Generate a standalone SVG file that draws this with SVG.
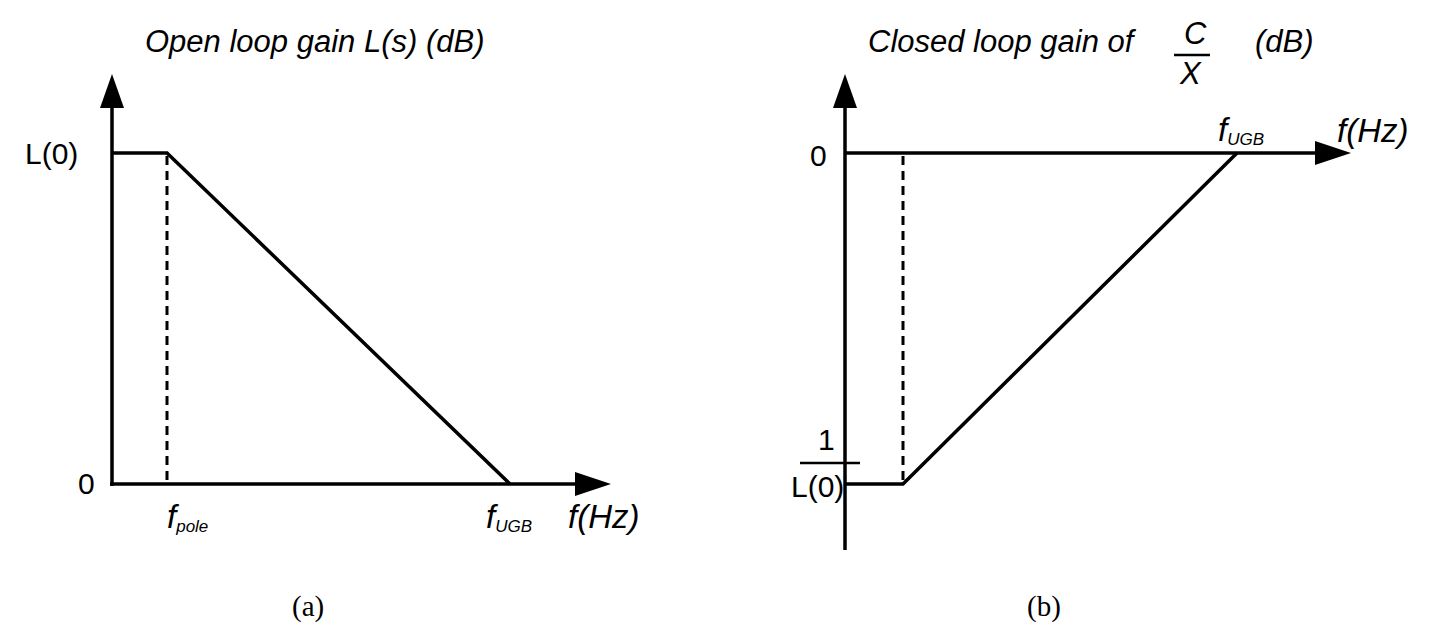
<svg xmlns="http://www.w3.org/2000/svg" width="1440" height="639" viewBox="0 0 1440 639">
<style>
.l{stroke:#000;stroke-width:3.5;fill:none}
.d{stroke:#000;stroke-width:3;fill:none;stroke-dasharray:9,6}
text{font-family:"Liberation Sans",Arial,sans-serif;fill:#000}
.i{font-style:italic;font-size:31px}
.n{font-size:30px}
.h{font-style:italic;font-size:33px}
.s{font-style:italic;font-size:17px}
.c{font-family:"Liberation Serif","Times New Roman",serif;font-size:29px}
</style>
<rect width="1440" height="639" fill="#fff"/>
<g id="connectors">
<path class="l" d="M112,486V100"/><path d="M112,74L100,108H124z"/>
<path class="l" d="M110,484H585"/><path d="M611,484L575,472V496z"/>
<path class="l" d="M112,153H167L510,484"/>
<path class="d" d="M167,156V484"/>
<path class="l" d="M845,550V100"/><path d="M845,74L833,108H857z"/>
<path class="l" d="M845,153H1325"/><path d="M1351,153L1315,141V165z"/>
<path class="l" d="M845,484H903L1237,153"/>
<path class="d" d="M903,156V484"/>
</g>
<g id="left-labels">
<text class="i" x="145" y="52">Open loop gain L(s)  (dB)</text>
<text class="n" x="25" y="164">L(0)</text>
<text class="n" x="78" y="494">0</text>
<text class="h" x="167" y="528">f<tspan class="s" dy="4">pole</tspan></text>
<text class="h" x="486" y="528">f<tspan class="s" dy="4">UGB</tspan></text>
<text class="h" x="568" y="528">f(Hz)</text>
</g>
<g id="right-labels">
<text class="i" x="868" y="52">Closed loop gain of</text>
<text class="i" x="1184" y="44">C</text>
<path d="M1174,55H1210" stroke="#000" stroke-width="2.5"/>
<text class="i" x="1180" y="84">X</text>
<text class="i" x="1255" y="52">(dB)</text>
<text class="n" x="810" y="166">0</text>
<text class="n" x="818" y="450">1</text>
<path d="M800,463H860" stroke="#000" stroke-width="2.5"/>
<text class="n" x="791" y="497">L(0)</text>
<text class="h" x="1218" y="141">f<tspan class="s" dy="4">UGB</tspan></text>
<text class="h" x="1337" y="142">f(Hz)</text>
</g>
<text class="c" x="292" y="616">(a)</text>
<text class="c" x="1027" y="616">(b)</text>
</svg>
